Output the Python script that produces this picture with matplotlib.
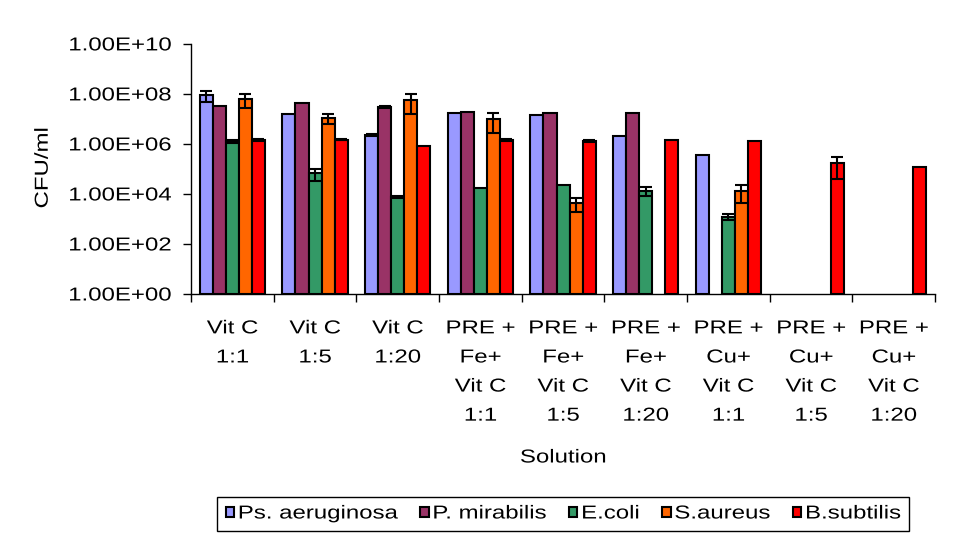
import numpy as np
import matplotlib
matplotlib.use("Agg")
import matplotlib.pyplot as plt
import matplotlib.legend as mlegend
from matplotlib.offsetbox import TextArea
from matplotlib.patheffects import AbstractPathEffect
from matplotlib.transforms import Affine2D, Bbox

plt.rcParams['font.family'] = ['Liberation Sans', 'DejaVu Sans']

solutions = ["Vit C\n1:1", "Vit C\n1:5", "Vit C\n1:20",
             "PRE +\nFe+\nVit C\n1:1", "PRE +\nFe+\nVit C\n1:5", "PRE +\nFe+\nVit C\n1:20",
             "PRE +\nCu+\nVit C\n1:1", "PRE +\nCu+\nVit C\n1:5", "PRE +\nCu+\nVit C\n1:20"]
species = ["Ps. aeruginosa", "P. mirabilis", "E.coli", "S.aureus", "B.subtilis"]
colors = ["#9999FF", "#993366", "#339966", "#FF6600", "#FF0000"]

nan = np.nan
ps_aeruginosa = [9.0e7, 1.6e7, 2.3e6, 1.7e7, 1.45e7, 2.1e6, 3.6e5, nan, nan]
ps_aeruginosa_err = [4.1e7, 0, 3e5, 0, 0, 0, 0, 0, 0]
p_mirabilis = [3.2e7, 4.4e7, 3.0e7, 1.9e7, 1.7e7, 1.7e7, nan, nan, nan]
p_mirabilis_err = [0, 0, 3e6, 0, 0, 0, 0, 0, 0]
e_coli = [1.3e6, 6.6e4, 7.6e3, 1.7e4, 2.3e4, 1.37e4, 1.25e3, nan, nan]
e_coli_err = [2e5, 3.4e4, 1e3, 0, 0, 5.5e3, 3.5e2, 0, 0]
s_aureus = [6.4e7, 1.1e7, 5.8e7, 1.0e7, 4.4e3, nan, 1.37e4, nan, nan]
s_aureus_err = [3.6e7, 5e6, 4.2e7, 7.3e6, 2.5e3, 0, 9.3e3, 0, 0]
b_subtilis = [1.5e6, 1.5e6, 8.5e5, 1.5e6, 1.3e6, 1.5e6, 1.3e6, 1.7e5, 1.2e5]
b_subtilis_err = [1.5e5, 1e5, 0, 1.5e5, 1e5, 0, 0, 1.3e5, 0]

values = [ps_aeruginosa, p_mirabilis, e_coli, s_aureus, b_subtilis]
errors = [ps_aeruginosa_err, p_mirabilis_err, e_coli_err, s_aureus_err, b_subtilis_err]

fs = 13.5
SX = 1.28  # the original text is horizontally stretched (Excel export)


class Stretch(AbstractPathEffect):
    # widen glyphs along the baseline, keeping the alignment point in place
    def __init__(self, sx, align="left"):
        super().__init__()
        self.sx = sx
        self.k = {"left": 0.0, "center": 0.5, "right": 1.0}[align]

    def draw_path(self, renderer, gc, tpath, affine, rgbFace=None):
        w = tpath.get_extents().x1
        tr = Affine2D().scale(self.sx, 1).translate(-(self.sx - 1) * w * self.k, 0) + affine
        renderer.draw_path(gc, tpath, tr, rgbFace)


class WideTextArea(TextArea):
    def get_bbox(self, renderer):
        bb = super().get_bbox(renderer)
        return Bbox.from_bounds(bb.x0, bb.y0, bb.width * SX, bb.height)


mlegend.TextArea = WideTextArea

fig = plt.figure(figsize=(9.6, 5.49), dpi=100)
ax = fig.add_axes([0.199, 0.4645, 0.775, 0.4555])

x = np.arange(len(solutions))
w = 0.158
for j, (vals, errs) in enumerate(zip(values, errors)):
    vals = np.array(vals)
    errs = np.array(errs, dtype=float)
    pos = x + (j - 2) * w
    ax.bar(pos, vals - 1, bottom=1, width=w, color=colors[j], edgecolor="black",
           linewidth=1.5, label=species[j], zorder=2)
    m = ~np.isnan(vals) & (errs > 0)
    ax.errorbar(pos[m], vals[m], yerr=errs[m], fmt="none", ecolor="black",
                elinewidth=1.5, capsize=4, capthick=1.5, zorder=3)

ax.set_yscale("log")
ax.set_ylim(1, 1e10)
ax.set_xlim(-0.5, len(solutions) - 0.5)
yt = [10.0 ** k for k in range(0, 11, 2)]
ax.set_yticks(yt)
ax.set_yticklabels(["1.00E+%02d" % k for k in range(0, 11, 2)], fontsize=fs)
ax.yaxis.set_minor_locator(matplotlib.ticker.NullLocator())
ax.tick_params(axis="y", which="major", direction="out", length=6, width=1, pad=8)

ax.set_xticks(x)
ax.set_xticklabels(solutions, fontsize=fs, linespacing=1.93)
ax.set_xticks(np.arange(-0.5, len(solutions)), minor=True)
ax.tick_params(axis="x", which="major", length=0, pad=19)
ax.tick_params(axis="x", which="minor", direction="out", length=6, width=1)

for t in ax.get_yticklabels():
    t.set_path_effects([Stretch(SX, "right")])
for t in ax.get_xticklabels():
    t.set_path_effects([Stretch(SX, "center")])

for s in ["top", "right"]:
    ax.spines[s].set_visible(False)
for s in ["left", "bottom"]:
    ax.spines[s].set_linewidth(1)

t1 = fig.text(0.5865, 1 - 458 / 549, "Solution", ha="center", va="center", fontsize=fs)
t2 = fig.text(0.045, 1 - 168 / 549, "CFU/ml", ha="center", va="center", rotation=90, fontsize=fs)
t1.set_path_effects([Stretch(SX, "center")])
t2.set_path_effects([Stretch(SX, "center")])

leg = fig.legend(loc="center", bbox_to_anchor=(563 / 960, 1 - 514 / 549), ncol=5,
                 fontsize=fs, handlelength=0.45, handleheight=0.45, handletextpad=0.2,
                 columnspacing=1.2, borderpad=0.45, fancybox=False, edgecolor="black",
                 framealpha=1)
leg.get_frame().set_linewidth(1)
for t in leg.get_texts():
    t.set_path_effects([Stretch(SX, "left")])

fig.savefig("out.png", dpi=100)
